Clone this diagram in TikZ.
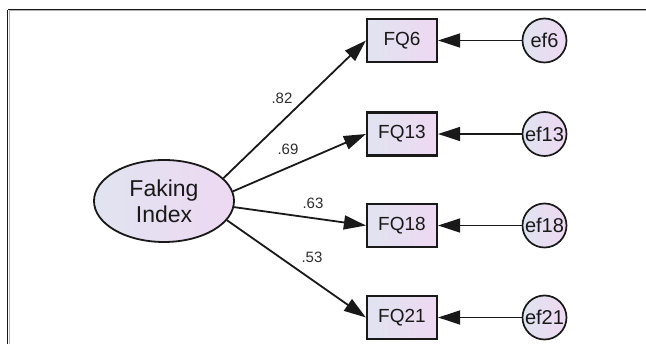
\documentclass[tikz,border=0pt]{standalone}
\usepackage{fontspec}
\setmainfont{Liberation Sans}
\usetikzlibrary{shapes.geometric,arrows.meta}
\definecolor{fillL}{RGB}{224,228,240}
\definecolor{fillR}{RGB}{238,216,242}
\definecolor{ink}{RGB}{25,25,25}
\definecolor{labink}{RGB}{45,45,45}
\begin{document}
\begin{tikzpicture}[x=1pt,y=-1pt,
  obs/.style={draw=ink,line width=2.2pt,rectangle,minimum width=70pt,minimum height=43pt,inner sep=0pt,
    left color=fillL,right color=fillR,font=\fontsize{19}{20}\selectfont,text=ink},
  err/.style={draw=ink,line width=1.7pt,circle,minimum size=44pt,inner sep=0pt,
    left color=fillL,right color=fillR,font=\fontsize{20}{21}\selectfont,text=ink},
  lat/.style={draw=ink,line width=1.8pt,ellipse,minimum width=140pt,minimum height=82pt,inner sep=0pt,
    left color=fillL,right color=fillR,font=\fontsize{23}{26}\selectfont,text=ink,align=center},
  arr/.style={draw=ink,line width=1.8pt,-{Triangle[length=22pt,width=14pt]}},
  lab/.style={font=\fontsize{15}{16}\selectfont,text=labink,inner sep=0pt}]
\useasboundingbox (0,0) rectangle (646,344);
% frame
\draw[gray!60,line width=1pt] (8.5,11) -- (646,11);
\draw[gray!60,line width=1pt] (9,11) -- (9,344);
\draw[ink,line width=1.3pt] (7.5,9.8) -- (646,9.8);
\draw[ink,line width=1.3pt] (7.5,9.8) -- (7.5,344);
% nodes
\node[lat] (FI) at (164,201) {Faking\\Index};
\node[obs] (FQ6) at (402,40.5) {FQ6};
\node[obs] (FQ13) at (402,134) {FQ13};
\node[obs] (FQ18) at (402,225.5) {FQ18};
\node[obs] (FQ21) at (402,317.5) {FQ21};
\node[err] (ef6) at (544.5,40.5) {ef6};
\node[err] (ef13) at (544.5,134) {ef13};
\node[err] (ef18) at (544.5,225.5) {ef18};
\node[err] (ef21) at (544.5,317.5) {ef21};
% loadings
\draw[arr] (FI.21) -- (FQ6.west);
\draw[arr] (FI.8) -- (FQ13.west);
\draw[arr] (FI.-5) -- (FQ18.west);
\draw[arr] (FI.-17) -- (FQ21.west);
% errors
\draw[arr] (ef6) -- (FQ6);
\draw[arr] (ef13) -- (FQ13);
\draw[arr] (ef18) -- (FQ18);
\draw[arr] (ef21) -- (FQ21);
% labels
\node[lab] (l82) at (282,98) {.82};
\node[lab] (l69) at (288,149) {.69};
\node[lab] (l63) at (313,203) {.63};
\node[lab] (l53) at (312,257) {.53};
\end{tikzpicture}
\end{document}
